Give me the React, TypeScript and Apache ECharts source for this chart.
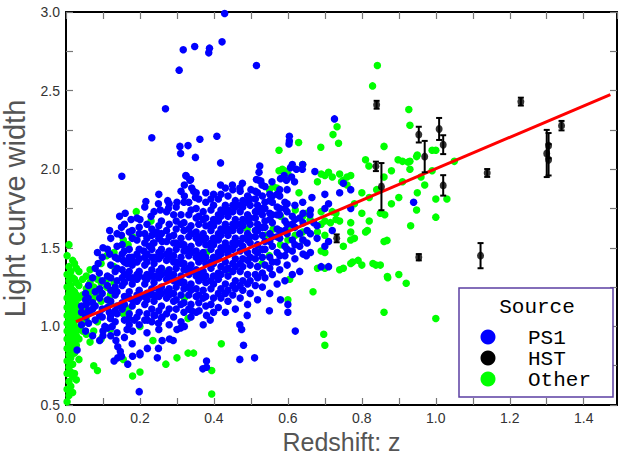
import React, { useEffect, useRef } from "react";
import * as echarts from "echarts";

// ---------- DATA ----------
const xTickLabels = ["0.0", "0.2", "0.4", "0.6", "0.8", "1.0", "1.2", "1.4"];
const yTickLabels = ["0.5", "1.0", "1.5", "2.0", "2.5", "3.0"];
const legendNames = ["PS1", "HST", "Other"];

// PS1 dense core: [x, list of y values]
const ps1Core: [number, number[]][] = [
  [0.042, [1.01, 1.09, 1.13]],
  [0.053, [0.97, 1.06, 1.17, 1.21]],
  [0.061, [1.02, 1.08, 1.26]],
  [0.072, [0.94, 1.11, 1.15, 1.31]],
  [0.079, [1.04, 1.13, 1.22, 1.37]],
  [0.091, [0.91, 1.07, 1.18, 1.24]],
  [0.098, [1.06, 1.11, 1.21, 1.29, 1.44]],
  [0.112, [0.99, 1.12, 1.17, 1.26, 1.32, 1.49]],
  [0.121, [0.94, 1.07, 1.16, 1.23, 1.31, 1.39, 1.56]],
  [0.133, [1.03, 1.1, 1.2, 1.25, 1.35, 1.44]],
  [0.138, [0.96, 1.08, 1.13, 1.22, 1.29, 1.37, 1.51, 1.59]],
  [0.152, [1.11, 1.15, 1.26, 1.31, 1.36, 1.46, 1.52]],
  [0.158, [0.93, 1.04, 1.14, 1.19, 1.28, 1.33, 1.41, 1.48, 1.65]],
  [0.171, [1.01, 1.08, 1.18, 1.22, 1.31, 1.35, 1.44, 1.49, 1.6]],
  [0.179, [0.89, 1.13, 1.17, 1.27, 1.31, 1.39, 1.44, 1.56, 1.61]],
  [0.192, [1.06, 1.16, 1.2, 1.3, 1.33, 1.41, 1.46, 1.55, 1.69]],
  [0.198, [1.01, 1.09, 1.18, 1.23, 1.32, 1.35, 1.43, 1.49, 1.59, 1.63]],
  [0.213, [1.04, 1.14, 1.19, 1.27, 1.31, 1.39, 1.44, 1.53, 1.59, 1.76]],
  [0.219, [0.96, 1.08, 1.17, 1.21, 1.3, 1.33, 1.41, 1.46, 1.56, 1.65]],
  [0.232, [1.03, 1.11, 1.2, 1.24, 1.32, 1.36, 1.44, 1.49, 1.58, 1.62]],
  [0.238, [1.07, 1.16, 1.2, 1.28, 1.32, 1.4, 1.44, 1.53, 1.59, 1.73]],
  [0.251, [0.98, 1.1, 1.19, 1.23, 1.31, 1.35, 1.43, 1.47, 1.56, 1.64, 1.84]],
  [0.258, [1.05, 1.13, 1.21, 1.25, 1.33, 1.37, 1.45, 1.49, 1.59, 1.67]],
  [0.272, [1.08, 1.18, 1.22, 1.3, 1.34, 1.42, 1.46, 1.54, 1.61, 1.73]],
  [0.279, [1.01, 1.11, 1.2, 1.24, 1.32, 1.36, 1.44, 1.48, 1.57, 1.65, 1.78]],
  [0.291, [1.06, 1.16, 1.21, 1.29, 1.33, 1.41, 1.45, 1.53, 1.58, 1.71]],
  [0.298, [1.11, 1.17, 1.25, 1.29, 1.37, 1.41, 1.49, 1.53, 1.62, 1.67, 1.76]],
  [0.311, [1.03, 1.14, 1.2, 1.28, 1.32, 1.4, 1.44, 1.52, 1.56, 1.65, 1.71, 1.86]],
  [0.319, [1.09, 1.15, 1.24, 1.28, 1.36, 1.4, 1.48, 1.52, 1.61, 1.66, 1.79]],
  [0.332, [1.11, 1.2, 1.25, 1.33, 1.37, 1.45, 1.49, 1.57, 1.62, 1.71, 1.79]],
  [0.338, [1.06, 1.14, 1.23, 1.27, 1.35, 1.39, 1.47, 1.51, 1.59, 1.64, 1.74]],
  [0.352, [1.09, 1.19, 1.24, 1.32, 1.36, 1.44, 1.48, 1.56, 1.6, 1.69, 1.75, 1.85]],
  [0.359, [1.15, 1.2, 1.29, 1.33, 1.41, 1.45, 1.53, 1.57, 1.65, 1.7, 1.81]],
  [0.371, [1.01, 1.18, 1.23, 1.31, 1.35, 1.43, 1.47, 1.55, 1.59, 1.68, 1.73]],
  [0.378, [1.13, 1.19, 1.28, 1.32, 1.4, 1.44, 1.52, 1.56, 1.64, 1.69, 1.79, 1.85]],
  [0.392, [1.14, 1.24, 1.29, 1.37, 1.41, 1.49, 1.53, 1.61, 1.65, 1.74, 1.81]],
  [0.399, [1.09, 1.18, 1.27, 1.32, 1.4, 1.44, 1.52, 1.56, 1.64, 1.68, 1.77, 1.84]],
  [0.412, [1.12, 1.21, 1.3, 1.34, 1.43, 1.47, 1.55, 1.59, 1.67, 1.71, 1.81]],
  [0.419, [1.18, 1.24, 1.33, 1.38, 1.46, 1.5, 1.58, 1.62, 1.7, 1.74, 1.84]],
  [0.431, [1.09, 1.21, 1.27, 1.36, 1.41, 1.49, 1.53, 1.61, 1.65, 1.73, 1.77, 1.88]],
  [0.438, [1.16, 1.23, 1.32, 1.37, 1.46, 1.5, 1.58, 1.62, 1.7, 1.74, 1.83]],
  [0.451, [1.2, 1.26, 1.35, 1.4, 1.49, 1.53, 1.61, 1.65, 1.73, 1.77, 1.87]],
  [0.458, [1.11, 1.24, 1.29, 1.38, 1.43, 1.52, 1.56, 1.64, 1.68, 1.76, 1.8]],
  [0.471, [1.18, 1.26, 1.35, 1.4, 1.48, 1.53, 1.61, 1.65, 1.73, 1.77, 1.86]],
  [0.478, [1.23, 1.29, 1.38, 1.43, 1.51, 1.56, 1.64, 1.68, 1.76, 1.8]],
  [0.491, [1.14, 1.27, 1.33, 1.42, 1.47, 1.55, 1.59, 1.67, 1.71, 1.79, 1.83]],
  [0.498, [1.21, 1.29, 1.39, 1.44, 1.53, 1.57, 1.65, 1.69, 1.77, 1.81]],
  [0.512, [1.26, 1.33, 1.43, 1.48, 1.57, 1.61, 1.69, 1.73, 1.81, 1.86]],
  [0.518, [1.17, 1.31, 1.38, 1.47, 1.52, 1.61, 1.65, 1.73, 1.77, 1.85]],
  [0.531, [1.25, 1.34, 1.44, 1.49, 1.58, 1.63, 1.71, 1.75, 1.83]],
  [0.538, [1.31, 1.39, 1.49, 1.54, 1.63, 1.67, 1.75, 1.79, 1.89]],
  [0.551, [1.21, 1.37, 1.44, 1.54, 1.59, 1.68, 1.72, 1.8, 1.84]],
  [0.558, [1.33, 1.41, 1.51, 1.57, 1.66, 1.71, 1.79, 1.83]],
  [0.571, [1.27, 1.41, 1.47, 1.57, 1.62, 1.71, 1.76, 1.84]],
  [0.578, [1.36, 1.45, 1.56, 1.61, 1.71, 1.75, 1.83, 1.87]],
  [0.592, [1.29, 1.45, 1.51, 1.61, 1.67, 1.75, 1.79]],
  [0.598, [1.39, 1.49, 1.59, 1.65, 1.73, 1.78, 1.87]],
  [0.612, [1.33, 1.48, 1.55, 1.65, 1.7]],
  [0.619, [1.43, 1.52, 1.63, 1.68, 1.77]],
  [0.632, [1.35, 1.51, 1.59, 1.69]],
  [0.641, [1.46, 1.55, 1.66, 1.72]],
  [0.652, [1.53, 1.61]],
  [0.661, [1.47, 1.59, 1.74]],
  [0.679, [1.56, 1.64]],
];

// PS1 scattered points [x, y]
const ps1Scatter: [number, number][] = [
  [0.429, 2.99], [0.422, 2.81], [0.317, 2.76], [0.348, 2.78], [0.388, 2.77], [0.386, 2.74],
  [0.515, 2.66], [0.306, 2.63], [0.269, 2.385], [0.232, 2.2], [0.308, 2.145], [0.33, 2.15],
  [0.362, 2.19], [0.408, 2.21], [0.31, 2.1], [0.35, 2.075], [0.418, 2.04], [0.151, 1.955],
  [0.325, 1.956], [0.337, 1.935], [0.524, 2.02], [0.522, 1.98], [0.515, 1.935], [0.522, 1.93],
  [0.527, 1.925], [0.557, 1.92], [0.477, 1.91], [0.418, 1.9], [0.726, 2.32], [0.604, 2.21],
  [0.604, 2.18], [0.603, 2.16], [0.612, 2.03], [0.607, 2.01], [0.623, 2.0], [0.639, 2.0],
  [0.673, 1.985], [0.59, 1.96], [0.58, 1.94], [0.596, 1.93], [0.61, 1.95], [0.618, 1.92],
  [0.75, 1.91], [0.74, 1.85], [0.77, 1.87], [0.665, 1.82], [0.64, 1.79], [0.71, 1.78],
  [0.77, 1.75], [0.66, 1.71], [0.67, 1.66], [0.72, 1.61], [0.71, 1.54], [0.7, 1.51],
  [0.65, 1.45], [0.71, 1.38], [0.94, 1.79], [0.64, 2.03], [0.69, 1.38], [0.7, 1.84], [0.7, 1.75],
  [0.198, 0.585], [0.167, 0.76], [0.13, 0.78], [0.14, 0.8], [0.37, 0.73], [0.38, 0.74],
  [0.38, 0.78], [0.247, 0.8], [0.18, 0.81], [0.2, 0.82], [0.47, 0.79], [0.51, 0.8],
  [0.48, 0.88], [0.475, 0.98], [0.62, 0.97], [0.6, 1.14], [0.6, 1.09], [0.55, 1.1],
  [0.58, 1.17], [0.49, 1.07], [0.47, 1.01], [0.36, 1.1], [0.38, 1.07], [0.39, 1.04],
  [0.34, 1.1], [0.3, 0.98], [0.31, 0.99], [0.32, 1.0], [0.26, 0.91], [0.28, 0.92],
  [0.29, 0.91], [0.22, 0.86], [0.25, 0.86], [0.2, 0.83], [0.135, 0.91], [0.14, 0.87],
  [0.147, 0.84], [0.15, 0.81], [0.1, 0.94], [0.1, 0.97], [0.105, 1.0], [0.125, 1.0],
  [0.03, 0.85], [0.17, 1.05], [0.185, 1.04], [0.165, 0.98], [0.18, 0.97], [0.22, 1.04],
  [0.24, 1.07], [0.26, 1.06], [0.25, 1.02], [0.06, 1.18], [0.055, 1.14], [0.06, 1.1],
  [0.09, 1.34], [0.117, 1.09], [0.12, 1.05], [0.216, 1.795], [0.25, 1.78], [0.275, 1.8],
  [0.3, 1.79], [0.32, 1.83], [0.35, 1.82], [0.16, 1.72], [0.145, 1.7], [0.176, 1.68],
  [0.2, 1.68], [0.23, 1.7], [0.255, 1.74], [0.277, 1.75], [0.15, 1.63], [0.118, 1.61],
  [0.15, 1.58], [0.245, 1.6], [0.252, 1.56], [0.26, 1.54], [0.085, 1.47], [0.1, 1.5],
  [0.118, 1.46], [0.14, 1.43], [0.155, 1.42], [0.165, 1.4], [0.18, 1.41], [0.087, 1.4],
  [0.21, 1.48], [0.225, 1.51], [0.236, 1.53], [0.324, 1.96], [0.335, 1.93], [0.34, 1.88],
  [0.32, 1.9], [0.345, 1.86], [0.45, 1.9], [0.47, 1.88], [0.5, 1.87], [0.53, 1.9],
];

// Other: dense strip near z = 0 [x, list of y]
const otherStrip: [number, number[]][] = [
  [0.003, [0.52, 0.6, 0.7, 0.78, 0.86, 0.92, 0.97, 1.02, 1.07, 1.12, 1.18, 1.25, 1.33, 1.45]],
  [0.008, [0.56, 0.65, 0.74, 0.82, 0.89, 0.95, 1.0, 1.04, 1.09, 1.15, 1.21, 1.29, 1.38, 1.52]],
  [0.013, [0.62, 0.71, 0.8, 0.87, 0.93, 0.98, 1.03, 1.08, 1.13, 1.19, 1.26, 1.35]],
  [0.018, [0.58, 0.68, 0.76, 0.85, 0.91, 0.96, 1.01, 1.06, 1.11, 1.17, 1.23, 1.31, 1.42]],
  [0.023, [0.7, 0.83, 0.9, 0.95, 1.0, 1.05, 1.1, 1.16, 1.22, 1.3, 1.4]],
  [0.028, [0.66, 0.88, 0.94, 0.99, 1.04, 1.09, 1.14, 1.2, 1.28, 1.37]],
  [0.035, [0.79, 0.92, 0.98, 1.05, 1.12, 1.18, 1.26, 1.35]],
  [0.045, [0.97, 1.02, 1.12, 1.2, 1.3]],
  [0.055, [0.95, 1.04, 1.15, 1.24, 1.32]],
  [0.065, [0.9, 1.1, 1.22, 1.28, 1.36]],
  [0.075, [0.75, 0.97, 1.18, 1.25]],
  [0.085, [0.72, 1.03, 1.2, 1.3]],
  [0.095, [0.92, 1.16, 1.28, 1.4]],
  [0.11, [1.25, 1.3, 1.45]],
  [0.12, [0.98, 1.15, 1.2]],
  [0.13, [1.28, 1.38, 1.47]],
  [0.155, [0.79, 1.08, 1.55]],
  [0.168, [1.11, 1.52]],
  [0.18, [0.685, 1.57]],
];

// Other: scattered points [x, y]
const otherScatter: [number, number][] = [
  [0.19, 1.73], [0.2, 0.71], [0.2, 1.0], [0.23, 1.67], [0.235, 0.91], [0.27, 0.76], [0.3, 0.8],
  [0.33, 0.83], [0.33, 1.05], [0.345, 0.83], [0.394, 0.57], [0.394, 0.72], [0.42, 0.89],
  [0.26, 1.36], [0.32, 1.18], [0.38, 1.47], [0.44, 1.35], [0.49, 1.62], [0.52, 1.48],
  [0.576, 2.12], [0.576, 1.99], [0.842, 2.66], [0.829, 2.53], [0.927, 2.38], [0.93, 2.28],
  [0.86, 2.145], [0.81, 2.06], [0.819, 2.02], [0.898, 2.06], [0.91, 2.05], [0.925, 2.045],
  [0.948, 2.08], [0.99, 2.12], [1.0, 2.12], [0.93, 2.0], [0.99, 1.99], [0.733, 2.27],
  [0.722, 2.22], [0.737, 2.165], [0.689, 2.14], [0.629, 2.17], [0.64, 2.03], [0.69, 1.97],
  [0.71, 1.98], [0.74, 1.97], [0.76, 1.95], [0.75, 1.93], [0.77, 1.96], [0.6, 1.97],
  [0.59, 1.99], [0.585, 2.0], [0.68, 1.92], [0.63, 1.85], [0.56, 1.89], [0.55, 1.87],
  [0.57, 1.88], [0.95, 2.09], [0.93, 2.05], [1.0, 1.81], [1.03, 1.81], [1.0, 1.695],
  [0.932, 1.64], [0.948, 1.74], [0.868, 1.547], [0.86, 1.54], [0.838, 1.39], [0.869, 1.317],
  [0.9, 1.33], [0.92, 1.275], [0.668, 1.22], [0.79, 1.42], [0.77, 1.4], [0.775, 1.41],
  [0.75, 1.37], [0.68, 1.37], [0.7, 1.47], [0.69, 1.48], [0.75, 1.51], [0.77, 1.55],
  [0.78, 1.56], [0.81, 1.6], [0.815, 1.61], [0.77, 1.66], [0.77, 1.6], [0.74, 1.67],
  [0.73, 1.68], [0.82, 1.67], [0.8, 1.72], [0.862, 1.71], [0.69, 1.73], [0.72, 1.73],
  [0.73, 1.72], [0.7, 1.96], [0.72, 1.95], [0.745, 1.92], [0.76, 1.9], [0.7, 1.67],
  [0.715, 1.66], [0.69, 1.65], [0.64, 1.55], [0.64, 1.6], [0.86, 1.09], [1.0, 1.05],
  [0.87, 1.31], [0.8, 1.39], [0.85, 1.39], [0.83, 1.4], [0.7, 1.37], [0.74, 1.36],
  [0.697, 0.95], [0.7, 0.88], [0.6, 1.17], [0.605, 1.3], [0.58, 1.7], [0.6, 1.62],
  [0.62, 1.58], [0.65, 1.72], [0.66, 1.68], [0.68, 1.6], [0.7, 1.58], [0.64, 1.7],
  [0.62, 1.74], [0.6, 1.55], [0.58, 1.52], [0.56, 1.62], [0.54, 1.58], [0.85, 1.72],
  [0.88, 1.78], [0.9, 1.82], [0.95, 1.85], [0.97, 1.9], [0.91, 1.92], [0.84, 1.87],
  [0.82, 1.82], [0.78, 1.78], [0.8, 1.85], [0.86, 1.95], [0.88, 1.99], [0.96, 1.95],
  [1.05, 2.05], [0.55, 1.45], [0.53, 1.4],
];

// HST: x, y, error
const hstX = [0.732, 0.838, 0.84, 0.853, 0.954, 0.954, 0.97, 1.009, 1.02, 1.02, 1.121, 1.139, 1.23, 1.3, 1.305, 1.305, 1.34];
const hstY = [1.56, 2.018, 2.41, 1.889, 2.22, 1.44, 2.08, 2.256, 2.156, 1.897, 1.45, 1.976, 2.43, 2.1, 2.15, 2.06, 2.277];
const hstErr = [0.025, 0.03, 0.025, 0.15, 0.05, 0.02, 0.1, 0.07, 0.06, 0.065, 0.08, 0.025, 0.025, 0.15, 0.08, 0.1, 0.03];

// Fit line endpoints
const fitX = [0.027, 1.472];
const fitY = [1.03, 2.475];

// ---------- CHART ----------
export default function App() {
  const ref = useRef<HTMLDivElement>(null);

  useEffect(() => {
    if (!ref.current) return;
    const chart = echarts.init(ref.current, undefined, { renderer: "svg" });

    const ps1: [number, number][] = [];
    ps1Core.forEach(([x, ys]) => ys.forEach((y) => ps1.push([x, y])));
    ps1Scatter.forEach((p) => ps1.push(p));
    const other: [number, number][] = [];
    otherStrip.forEach(([x, ys]) => ys.forEach((y) => other.push([x, y])));
    otherScatter.forEach((p) => other.push(p));
    const hst = hstX.map((x, i) => [x, hstY[i], hstErr[i]]);
    const fit = fitX.map((x, i) => [x, fitY[i]]);

    const labelFont = "Liberation Sans";
    const tickCol = "#777";
    const isMult = (v: number, step: number) => Math.abs(v / step - Math.round(v / step)) < 1e-6;

    const baseX = {
      type: "value" as const,
      min: 0,
      max: 1.49,
      interval: 0.1,
      splitLine: { show: false },
      axisLine: { show: true, onZero: false, lineStyle: { color: "#000", width: 2 } },
      axisTick: { show: true, inside: true, length: 7, lineStyle: { color: tickCol, width: 1.2 } },
    };
    const baseY = {
      type: "value" as const,
      min: 0.5,
      max: 3.0,
      interval: 0.25,
      splitLine: { show: false },
      axisLine: { show: true, onZero: false, lineStyle: { color: "#000", width: 2 } },
      axisTick: { show: true, inside: true, length: 7, lineStyle: { color: tickCol, width: 1.2 } },
    };

    const legendX = 459, legendY = 288;
    const legendColors = ["#0000ff", "#000000", "#00ff00"];
    const legendGraphics: any[] = [
      {
        type: "rect",
        shape: { x: legendX, y: legendY, width: 154, height: 109 },
        style: { fill: "#fff", stroke: "#5b3fa3", lineWidth: 1.5 },
        z: 100,
      },
      {
        type: "text",
        x: 537,
        y: 307,
        style: {
          text: "Source",
          font: "21px 'Liberation Mono'",
          fill: "#000",
          textAlign: "center",
          textVerticalAlign: "middle",
        },
        z: 101,
      },
    ];
    legendNames.forEach((n, i) => {
      legendGraphics.push({
        type: "circle",
        shape: { cx: 488, cy: 337 + i * 21, r: 7.5 },
        style: { fill: legendColors[i] },
        z: 101,
      });
      legendGraphics.push({
        type: "text",
        x: 528,
        y: 338 + i * 21,
        style: {
          text: n,
          font: "21px 'Liberation Mono'",
          fill: "#000",
          textAlign: "left",
          textVerticalAlign: "middle",
        },
        z: 101,
      });
    });

    chart.setOption({
      animation: false,
      backgroundColor: "#fff",
      grid: { left: 66, right: 4, top: 12, bottom: 50, containLabel: false, outerBoundsMode: "none" },
      xAxis: [
        {
          ...baseX,
          position: "bottom",
          name: "Redshift: z",
          nameLocation: "middle",
          nameGap: 17,
          nameTextStyle: { fontFamily: labelFont, fontSize: 25, lineHeight: 25, color: "#555" },
          axisLabel: {
            show: true,
            margin: 6,
            fontFamily: labelFont,
            fontSize: 14,
            color: "#333",
            showMaxLabel: false,
            formatter: (v: number) => (isMult(v, 0.2) && v < 1.45 ? v.toFixed(1) : ""),
          },
        },
        {
          ...baseX,
          position: "top",
          axisLabel: { show: false },
        },
      ],
      yAxis: [
        {
          ...baseY,
          position: "left",
          name: "Light curve width",
          nameLocation: "middle",
          nameGap: 30,
          nameTextStyle: { fontFamily: labelFont, fontSize: 29, color: "#555" },
          axisLabel: {
            show: true,
            margin: 6,
            fontFamily: labelFont,
            fontSize: 14,
            color: "#333",
            formatter: (v: number) => (isMult(v, 0.5) ? v.toFixed(1) : ""),
          },
        },
        {
          ...baseY,
          position: "right",
          axisLabel: { show: false },
        },
      ],
      series: [
        {
          name: "Other",
          type: "scatter",
          data: other,
          symbolSize: 7.5,
          itemStyle: { color: "#00ff00", opacity: 1 },
          z: 2,
        },
        {
          name: "PS1",
          type: "scatter",
          data: ps1,
          symbolSize: 7.5,
          itemStyle: { color: "#0000ff", opacity: 1 },
          z: 3,
        },
        {
          name: "Fit",
          type: "line",
          data: fit,
          symbol: "none",
          lineStyle: { color: "#ff0000", width: 3 },
          z: 4,
        },
        {
          name: "HST errors",
          type: "custom",
          data: hst,
          encode: { x: 0, y: 1 },
          z: 5,
          renderItem: (params: any, api: any) => {
            const x = api.value(0);
            const y = api.value(1);
            const e = api.value(2);
            const top = api.coord([x, y + e]);
            const bot = api.coord([x, y - e]);
            const c = 3;
            const st = { stroke: "#000", lineWidth: 2 };
            return {
              type: "group",
              children: [
                { type: "line", shape: { x1: top[0], y1: top[1], x2: bot[0], y2: bot[1] }, style: st },
                { type: "line", shape: { x1: top[0] - c, y1: top[1], x2: top[0] + c, y2: top[1] }, style: st },
                { type: "line", shape: { x1: bot[0] - c, y1: bot[1], x2: bot[0] + c, y2: bot[1] }, style: st },
              ],
            };
          },
        },
        {
          name: "HST",
          type: "scatter",
          data: hst.map((d) => [d[0], d[1]]),
          symbolSize: [7, 8],
          itemStyle: { color: "#000" },
          z: 6,
        },
      ],
      graphic: legendGraphics,
    });

    return () => chart.dispose();
  }, []);

  return (
    <div
      ref={ref}
      style={{ position: "fixed", left: 0, top: 0, width: 621, height: 455 }}
    />
  );
}
